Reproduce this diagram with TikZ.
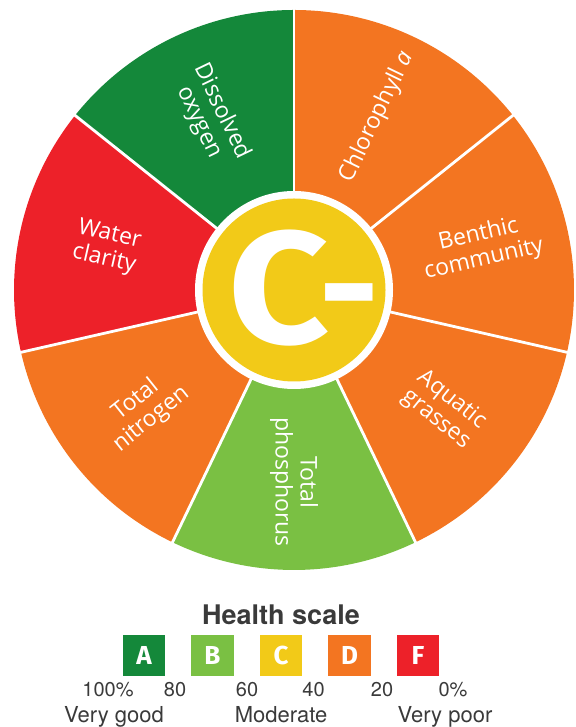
\documentclass[tikz,border=0pt]{standalone}
\usepackage{fontspec}
\usepackage{graphicx}
\setmainfont{Open Sans}
\newfontfamily\gradefont{Fira Sans}
\newfontfamily\legendfont{TeX Gyre Heros}
\definecolor{gradeA}{RGB}{20,136,58}
\definecolor{gradeB}{RGB}{122,192,67}
\definecolor{gradeC}{RGB}{242,202,24}
\definecolor{gradeD}{RGB}{243,117,33}
\definecolor{gradeF}{RGB}{237,33,41}
\definecolor{scalegray}{RGB}{58,58,58}
\tikzset{
  sectorlabel/.style={text=white, align=center, inner sep=0pt, font=\fontsize{11.5}{12.5}\selectfont},
  gradebox/.style={minimum width=21.4pt, minimum height=20.5pt, inner sep=0pt, text=white, font=\gradefont\bfseries\fontsize{13}{13}\selectfont},
  scalenum/.style={anchor=base, text=scalegray, font=\legendfont\fontsize{10}{10}\selectfont},
  scaletext/.style={anchor=base, text=scalegray, font=\legendfont\fontsize{11}{11}\selectfont}
}
\begin{document}
\begin{tikzpicture}[x=0.5pt,y=0.5pt]
    \useasboundingbox (0,0) rectangle (576,727);
    \coordinate (c) at (294,437);

    % sectors, clockwise from the top
    \foreach \a/\col in {90/gradeD, 38.57/gradeD, -12.86/gradeD, -64.29/gradeB, -115.71/gradeD, -167.14/gradeF, 141.43/gradeA}
        \fill[\col] (c) -- ++(\a:280) arc[start angle=\a, delta angle=-51.43, radius=280] -- cycle;
    \foreach \i in {0,...,6} \draw[white, line width=1.4pt] (c) -- ++(90-51.4286*\i:281);

    % grade in the middle
    \fill[white] (c) circle[radius=99];
    \fill[gradeC] (c) circle[radius=91.5];
    \node[text=white, inner sep=0pt, font=\gradefont\bfseries\fontsize{80}{80}\selectfont] (grade) at (302,439) {\scalebox{1.1}[1]{C}\kern-3pt\raisebox{3pt}{\scalebox{0.62}[0.9]{–}}};

    \node[sectorlabel, rotate=-64.29] (oxygen) at ([shift={(115.71:192)}]c) {Dissolved\\oxygen};
    \node[sectorlabel, rotate=64.29] (chla) at ([shift={(64.29:192)}]c) {Chlorophyll \textit{a}};
    \node[sectorlabel, rotate=12.86] (benthic) at ([shift={(12.86:192)}]c) {Benthic\\community};
    \node[sectorlabel, rotate=-38.57] (grasses) at ([shift={(-38.57:192)}]c) {Aquatic\\grasses};
    \node[sectorlabel, rotate=-90] (phos) at ([shift={(-90:192)}]c) {Total\\phosphorus};
    \node[sectorlabel, rotate=38.57] (nitro) at ([shift={(-141.43:192)}]c) {Total\\nitrogen};
    \node[sectorlabel, rotate=-12.86] (clarity) at ([shift={(167.14:192)}]c) {Water\\clarity};

    % health scale
    \node[anchor=base, text=scalegray, font=\legendfont\bfseries\fontsize{13.5}{13.5}\selectfont] (title) at (281,102) {Health scale};
    \foreach \g/\col [count=\i] in {A/gradeA, B/gradeB, C/gradeC, D/gradeD, F/gradeF}
        \node[gradebox, fill=\col] (box\g) at ({144+68.5*(\i-1)},71.5) {\g};
    \foreach \v/\x [count=\i] in {100\%/108, 80/175, 60/247, 40/313.5, 20/382, 0\%/453}
        \node[scalenum] (num\i) at (\x,30) {\v};
    \node[scaletext] (good) at (114,4) {Very good};
    \node[scaletext] (moderate) at (281,4) {Moderate};
    \node[scaletext] (poor) at (445,4) {Very poor};
\end{tikzpicture}
\end{document}
